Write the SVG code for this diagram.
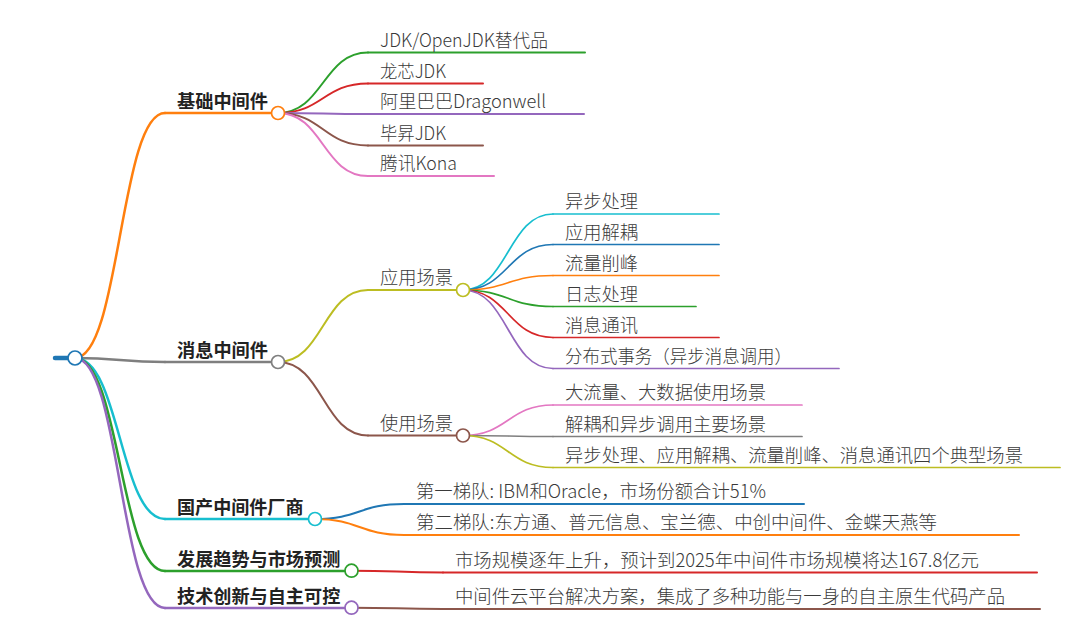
<svg xmlns="http://www.w3.org/2000/svg" width="1080" height="636" viewBox="0 0 1080 636">
<style>
  .lk { fill: none; stroke-linecap: round; }
  .d1 { stroke-width: 2.5; }
  .d2 { stroke-width: 2; }
  .d3 { stroke-width: 1.7; }
  .ul { fill: none; stroke-linecap: round; }
  .dot { fill: #fff; stroke-width: 1.7; }
  .t1 { font-family: "Noto Sans CJK SC", "Noto Sans", sans-serif; font-size: 18.3px; font-weight: 700; fill: #222; }
  .t { font-family: "Noto Sans CJK SC", "Noto Sans", sans-serif; font-size: 18.3px; font-weight: 300; fill: #3a3a3a; }
  .blue { stroke: #1f77b4; } .orange { stroke: #ff7f0e; } .green { stroke: #2ca02c; }
  .red { stroke: #d62728; } .purple { stroke: #9467bd; } .brown { stroke: #8c564b; }
  .pink { stroke: #e377c2; } .gray { stroke: #7f7f7f; } .olive { stroke: #bcbd22; } .cyan { stroke: #17becf; }
</style>
<rect width="1080" height="636" fill="#fff"/>

<g id="connectors">
  <!-- root to level 1 -->
  <path class="lk d1 orange" d="M75,358 C120,358 120,113 165,113"/>
  <path class="lk d1 gray" d="M75,358 C120,358 120,362 165,362"/>
  <path class="lk d1 cyan" d="M75,358 C120,358 120,519 165,519"/>
  <path class="lk d1 green" d="M75,358 C120,358 120,571 165,571"/>
  <path class="lk d1 purple" d="M75,358 C120,358 120,608 165,608"/>
  <!-- 基础中间件 children -->
  <path class="lk d2 green" d="M278,113 C323,113 323,52.5 368,52.5"/>
  <path class="lk d2 red" d="M278,113 C323,113 323,83.5 368,83.5"/>
  <path class="lk d2 purple" d="M278,113 C323,113 323,114 368,114"/>
  <path class="lk d2 brown" d="M278,113 C323,113 323,145.5 368,145.5"/>
  <path class="lk d2 pink" d="M278,113 C323,113 323,176 368,176"/>
  <!-- 消息中间件 children -->
  <path class="lk d2 olive" d="M278,362 C323,362 323,290 368,290"/>
  <path class="lk d2 brown" d="M278,362 C323,362 323,435.5 368,435.5"/>
  <!-- 应用场景 children -->
  <path class="lk d3 cyan" d="M463,290 C508,290 508,214 553,214"/>
  <path class="lk d3 blue" d="M463,290 C508,290 508,244.5 553,244.5"/>
  <path class="lk d3 orange" d="M463,290 C508,290 508,275.5 553,275.5"/>
  <path class="lk d3 green" d="M463,290 C508,290 508,306.5 553,306.5"/>
  <path class="lk d3 red" d="M463,290 C508,290 508,337.5 553,337.5"/>
  <path class="lk d3 purple" d="M463,290 C508,290 508,368.5 553,368.5"/>
  <!-- 使用场景 children -->
  <path class="lk d3 pink" d="M463,435.5 C508,435.5 508,405 553,405"/>
  <path class="lk d3 gray" d="M463,435.5 C508,435.5 508,436.5 553,436.5"/>
  <path class="lk d3 olive" d="M463,435.5 C508,435.5 508,467.5 553,467.5"/>
  <!-- 国产中间件厂商 children -->
  <path class="lk d2 blue" d="M315,519 C359.5,519 359.5,504 404,504"/>
  <path class="lk d2 orange" d="M315,519 C359.5,519 359.5,535 404,535"/>
  <!-- 发展趋势 child -->
  <path class="lk d2 red" d="M351.5,570.7 C397,570.7 397,572.5 443,572.5"/>
  <!-- 技术创新 child -->
  <path class="lk d2 brown" d="M351.5,607.7 C397,607.7 397,609 443,609"/>
</g>

<g id="root">
  <line class="ul blue" x1="55" y1="358" x2="75" y2="358" stroke-width="4.5" stroke-linecap="butt"/>
  <circle class="dot blue" cx="75" cy="358" r="7"/>
</g>

<g id="n-jichu">
  <line class="ul orange" x1="165" y1="113" x2="278" y2="113" stroke-width="2.5"/>
  <circle class="dot orange" cx="278" cy="113" r="6.5"/>
  <text class="t1" x="177" y="108" textLength="91" lengthAdjust="spacingAndGlyphs">基础中间件</text>
</g>
<g id="n-jdk">
  <line class="ul green" x1="368" y1="52.5" x2="585" y2="52.5" stroke-width="2"/>
  <text class="t" x="380" y="46.5" textLength="168" lengthAdjust="spacingAndGlyphs">JDK/OpenJDK替代品</text>
</g>
<g id="n-loongson">
  <line class="ul red" x1="368" y1="83.5" x2="483" y2="83.5" stroke-width="2"/>
  <text class="t" x="380" y="77.5" textLength="66" lengthAdjust="spacingAndGlyphs">龙芯JDK</text>
</g>
<g id="n-dragonwell">
  <line class="ul purple" x1="368" y1="114" x2="584" y2="114" stroke-width="2"/>
  <text class="t" x="380" y="108" textLength="166" lengthAdjust="spacingAndGlyphs">阿里巴巴Dragonwell</text>
</g>
<g id="n-bisheng">
  <line class="ul brown" x1="368" y1="145.5" x2="483" y2="145.5" stroke-width="2"/>
  <text class="t" x="380" y="139.5" textLength="66" lengthAdjust="spacingAndGlyphs">毕昇JDK</text>
</g>
<g id="n-kona">
  <line class="ul pink" x1="368" y1="176" x2="494" y2="176" stroke-width="2"/>
  <text class="t" x="380" y="170" textLength="77" lengthAdjust="spacingAndGlyphs">腾讯Kona</text>
</g>

<g id="n-xiaoxi">
  <line class="ul gray" x1="165" y1="362" x2="278" y2="362" stroke-width="2.5"/>
  <circle class="dot gray" cx="278" cy="362" r="6.5"/>
  <text class="t1" x="177" y="357" textLength="91" lengthAdjust="spacingAndGlyphs">消息中间件</text>
</g>
<g id="n-yingyong">
  <line class="ul olive" x1="368" y1="290" x2="463" y2="290" stroke-width="2"/>
  <circle class="dot olive" cx="463" cy="290" r="6.5"/>
  <text class="t" x="380" y="284" textLength="73" lengthAdjust="spacingAndGlyphs">应用场景</text>
</g>
<g id="n-yibu">
  <line class="ul cyan" x1="553" y1="214" x2="719" y2="214" stroke-width="1.7"/>
  <text class="t" x="565" y="208" textLength="73" lengthAdjust="spacingAndGlyphs">异步处理</text>
</g>
<g id="n-jieou">
  <line class="ul blue" x1="553" y1="244.5" x2="719" y2="244.5" stroke-width="1.7"/>
  <text class="t" x="565" y="238.5" textLength="73" lengthAdjust="spacingAndGlyphs">应用解耦</text>
</g>
<g id="n-xuefeng">
  <line class="ul orange" x1="553" y1="275.5" x2="719" y2="275.5" stroke-width="1.7"/>
  <text class="t" x="565" y="269.5" textLength="73" lengthAdjust="spacingAndGlyphs">流量削峰</text>
</g>
<g id="n-rizhi">
  <line class="ul green" x1="553" y1="306.5" x2="696" y2="306.5" stroke-width="1.7"/>
  <text class="t" x="565" y="300.5" textLength="73" lengthAdjust="spacingAndGlyphs">日志处理</text>
</g>
<g id="n-tongxun">
  <line class="ul red" x1="553" y1="337.5" x2="719" y2="337.5" stroke-width="1.7"/>
  <text class="t" x="565" y="331.5" textLength="73" lengthAdjust="spacingAndGlyphs">消息通讯</text>
</g>
<g id="n-fenbushi">
  <line class="ul purple" x1="553" y1="368.5" x2="839" y2="368.5" stroke-width="1.7"/>
  <text class="t" x="565" y="362.5" textLength="227" lengthAdjust="spacingAndGlyphs">分布式事务（异步消息调用）</text>
</g>
<g id="n-shiyong">
  <line class="ul brown" x1="368" y1="435.5" x2="463" y2="435.5" stroke-width="2"/>
  <circle class="dot brown" cx="463" cy="435.5" r="6.5"/>
  <text class="t" x="380" y="429.5" textLength="73" lengthAdjust="spacingAndGlyphs">使用场景</text>
</g>
<g id="n-daliuliang">
  <line class="ul pink" x1="553" y1="405" x2="802" y2="405" stroke-width="1.7"/>
  <text class="t" x="565" y="399" textLength="201" lengthAdjust="spacingAndGlyphs">大流量、大数据使用场景</text>
</g>
<g id="n-jieouyibu">
  <line class="ul gray" x1="553" y1="436.5" x2="802" y2="436.5" stroke-width="1.7"/>
  <text class="t" x="565" y="430.5" textLength="201" lengthAdjust="spacingAndGlyphs">解耦和异步调用主要场景</text>
</g>
<g id="n-sige">
  <line class="ul olive" x1="553" y1="467.5" x2="1060" y2="467.5" stroke-width="1.7"/>
  <text class="t" x="565" y="461.5" textLength="458" lengthAdjust="spacingAndGlyphs">异步处理、应用解耦、流量削峰、消息通讯四个典型场景</text>
</g>

<g id="n-guochan">
  <line class="ul cyan" x1="165" y1="519" x2="315" y2="519" stroke-width="2.5"/>
  <circle class="dot cyan" cx="315" cy="519" r="6.5"/>
  <text class="t1" x="177" y="514" textLength="126.5" lengthAdjust="spacingAndGlyphs">国产中间件厂商</text>
</g>
<g id="n-diyi">
  <line class="ul blue" x1="404" y1="504" x2="804" y2="504" stroke-width="2"/>
  <text class="t" x="416" y="498" textLength="350" lengthAdjust="spacingAndGlyphs">第一梯队: IBM和Oracle，市场份额合计51%</text>
</g>
<g id="n-dier">
  <line class="ul orange" x1="404" y1="535" x2="1019" y2="535" stroke-width="2"/>
  <text class="t" x="416" y="529" textLength="521" lengthAdjust="spacingAndGlyphs">第二梯队:东方通、普元信息、宝兰德、中创中间件、金蝶天燕等</text>
</g>

<g id="n-fazhan">
  <line class="ul green" x1="165" y1="571" x2="351.5" y2="571" stroke-width="2.5"/>
  <circle class="dot green" cx="351.5" cy="570.7" r="6.5"/>
  <text class="t1" x="177" y="566" textLength="163.3" lengthAdjust="spacingAndGlyphs">发展趋势与市场预测</text>
</g>
<g id="n-guimo">
  <line class="ul red" x1="443" y1="572.5" x2="1037" y2="572.5" stroke-width="2"/>
  <text class="t" x="455" y="566.5" textLength="524" lengthAdjust="spacingAndGlyphs">市场规模逐年上升，预计到2025年中间件市场规模将达167.8亿元</text>
</g>

<g id="n-jishu">
  <line class="ul purple" x1="165" y1="608" x2="351.5" y2="608" stroke-width="2.5"/>
  <circle class="dot purple" cx="351.5" cy="607.7" r="6.5"/>
  <text class="t1" x="177" y="603" textLength="163.3" lengthAdjust="spacingAndGlyphs">技术创新与自主可控</text>
</g>
<g id="n-yunpingtai">
  <line class="ul brown" x1="443" y1="609" x2="1040" y2="609" stroke-width="2"/>
  <text class="t" x="455" y="603" textLength="550" lengthAdjust="spacingAndGlyphs">中间件云平台解决方案，集成了多种功能与一身的自主原生代码产品</text>
</g>
</svg>
